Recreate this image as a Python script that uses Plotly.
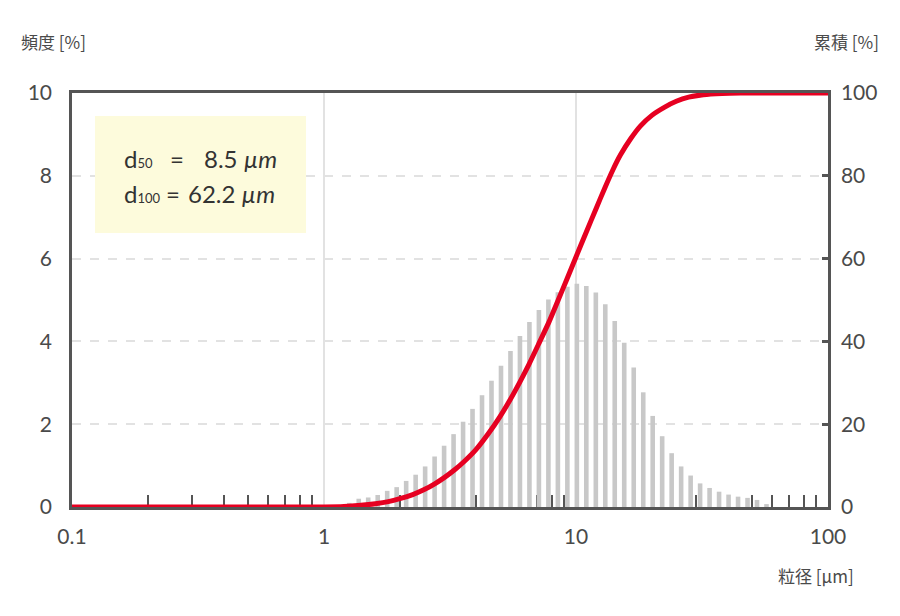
import plotly.graph_objects as go

# ---------------- data ----------------
diameters = [1.260, 1.374, 1.498, 1.634, 1.782, 1.943, 2.119, 2.311, 2.520, 2.748,
             2.997, 3.268, 3.564, 3.886, 4.238, 4.621, 5.040, 5.496, 5.993, 6.536,
             7.127, 7.772, 8.476, 9.243, 10.08, 10.99, 11.99, 13.07, 14.25, 15.54,
             16.95, 18.49, 20.16, 21.98, 23.97, 26.14, 28.51, 31.09, 33.90, 36.97,
             40.32, 43.97, 47.95, 52.29, 57.02]
frequency = [0.10, 0.20, 0.23, 0.29, 0.39, 0.48, 0.63, 0.78, 0.98, 1.22,
             1.48, 1.76, 2.06, 2.37, 2.70, 3.05, 3.41, 3.77, 4.13, 4.47,
             4.76, 5.01, 5.19, 5.32, 5.39, 5.34, 5.18, 4.90, 4.49, 3.97,
             3.37, 2.77, 2.20, 1.71, 1.30, 0.98, 0.76, 0.57, 0.46, 0.37,
             0.30, 0.25, 0.22, 0.17, 0.07]

cum_x = [0.1, 1.0, 1.2, 1.4, 1.6, 1.8, 2.0, 2.25, 2.5, 2.75, 3.0, 3.3, 3.6,
         4.0, 4.5, 5.0, 5.5, 6.0, 6.5, 7.1, 7.8, 8.5, 9.2, 10.0, 11.0, 12.0,
         13.0, 14.0, 15.0, 16.5, 18.0, 20.0, 22.5, 25.0, 28.0, 32.0, 38.0,
         45.0, 62.2, 100.0]
cum_y = [0, 0, 0.1, 0.4, 0.8, 1.3, 2.0, 3.0, 4.2, 5.6, 7.1, 9.0, 11.0,
         13.8, 17.8, 21.9, 26.1, 30.3, 34.4, 39.3, 44.6, 50.0, 55.0, 60.4, 66.5, 72.0,
         77.0, 81.4, 85.0, 89.0, 92.0, 94.6, 96.6, 98.0, 99.0, 99.6, 99.9,
         100, 100, 100]

x_tickvals = [0.1, 1, 10, 100]
x_ticktext = ["0.1", "1", "10", "100"]
x_minor = [0.2, 0.3, 0.4, 0.5, 0.6, 0.7, 0.8, 0.9,
           2, 3, 4, 5, 6, 7, 8, 9,
           20, 30, 40, 50, 60, 70, 80, 90]
left_ticks = [0, 2, 4, 6, 8, 10]
right_ticks = [0, 20, 40, 60, 80, 100]

# ---------------- layout constants ----------------
OFF = 8                      # page body margin of the browser
W, H = 900 - OFF, 616 - OFF
L, R, T, B = 72 - OFF, 72, 93 - OFF, 109
PW, PH = W - L - R, H - T - B
FONT = "Lato, 'Noto Sans CJK JP', sans-serif"
CJK = "'Noto Sans CJK JP', 'Noto Sans', sans-serif"
FRAME = "#555555"
TXT = "#4a4a4a"


def px(x):
    return (x - OFF - L) / PW


def py(y):
    return (H - B - (y - OFF)) / PH


# bar widths (linear data units on the log axis) ~ half of the channel spacing
bar_widths = [d * 0.042 for d in diameters]

fig = go.Figure()

fig.add_trace(go.Bar(
    x=diameters, y=frequency, width=bar_widths,
    marker=dict(color="#c8c8c8", line=dict(width=0)),
    xaxis="x", yaxis="y", hoverinfo="skip",
))

fig.add_trace(go.Scatter(
    x=cum_x, y=cum_y, mode="lines",
    line=dict(color="#e60021", width=5, shape="spline", smoothing=0.6),
    xaxis="x", yaxis="y2", cliponaxis=False, hoverinfo="skip",
))

fig.update_layout(
    width=W, height=H,
    margin=dict(l=L, r=R, t=T, b=B),
    paper_bgcolor="white", plot_bgcolor="white",
    showlegend=False,
    font=dict(family=FONT, color=TXT, size=20),
    xaxis=dict(
        type="log", range=[-1, 2],
        tickmode="array", tickvals=x_tickvals, ticktext=x_ticktext,
        ticks="", ticklabelstandoff=9,
        tickfont=dict(family=FONT, size=21, color=TXT),
        showgrid=True, gridcolor="#e2e2e2", gridwidth=2,
        showline=True, mirror=True, linecolor=FRAME, linewidth=2.5,
        zeroline=False, layer="below traces",
        minor=dict(tickmode="array", tickvals=x_minor, ticks="inside",
                   ticklen=12, tickwidth=2, tickcolor=FRAME, showgrid=False),
    ),
    yaxis=dict(
        range=[0, 10], tickmode="array", tickvals=left_ticks,
        ticks="", ticklabelstandoff=13,
        tickfont=dict(family=FONT, size=21, color=TXT),
        showgrid=True, gridcolor="#e2e2e2", gridwidth=2, griddash="dash",
        showline=True, linecolor=FRAME, linewidth=2.5,
        zeroline=False, layer="below traces",
    ),
    yaxis2=dict(
        range=[0, 100], overlaying="y", side="right",
        tickmode="array", tickvals=right_ticks,
        ticks="inside", ticklen=6, tickwidth=3, tickcolor=FRAME,
        ticklabelstandoff=6,
        tickfont=dict(family=FONT, size=21, color=TXT),
        showgrid=False, showline=True, linecolor=FRAME, linewidth=2.5,
        zeroline=False, layer="below traces",
    ),
)

# annotation box
fig.add_shape(type="rect", xref="paper", yref="paper",
              x0=px(95), x1=px(306), y0=py(233), y1=py(116),
              fillcolor="#fdfbdc", line=dict(width=0), layer="above")

box_font = dict(family=FONT, size=24, color="#333333")
SUB = "<span style='font-size:13px'>%s</span>"
lines = [
    (122, 158, "d" + SUB % "50"), (168, 158, "="), (202, 158, "8.5 <i>µm</i>"),
    (122, 193, "d" + SUB % "100"), (164, 193, "="), (186, 193, "62.2 <i>µm</i>"),
]
for x0, y0, txt in lines:
    fig.add_annotation(xref="paper", yref="paper", x=px(x0), y=py(y0),
                       text=txt, showarrow=False, xanchor="left", yanchor="middle",
                       font=box_font)

# axis titles
fig.add_annotation(xref="paper", yref="paper", x=px(19), y=py(42),
                   text="頻度 [%]", showarrow=False, xanchor="left", yanchor="middle",
                   font=dict(family=CJK, size=17, color=TXT))
fig.add_annotation(xref="paper", yref="paper", x=px(881), y=py(42),
                   text="累積 [%]", showarrow=False, xanchor="right", yanchor="middle",
                   font=dict(family=CJK, size=17, color=TXT))
fig.add_annotation(xref="paper", yref="paper", x=px(856), y=py(575),
                   text="粒径 [µm]", showarrow=False, xanchor="right", yanchor="middle",
                   font=dict(family=CJK, size=17, color=TXT))

fig.write_html("out.html")
